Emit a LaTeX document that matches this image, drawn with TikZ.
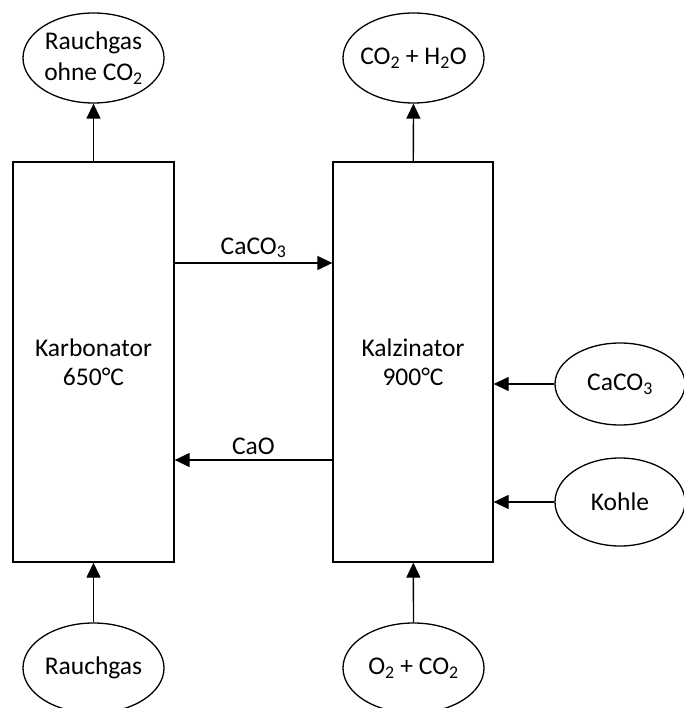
\documentclass[tikz,border=0pt]{standalone}
\usepackage{fontspec}
\setmainfont{Carlito}
\usetikzlibrary{shapes.geometric,arrows.meta}

\begin{document}
\begin{tikzpicture}[x=1pt, y=-1pt, line width=1.3pt,
	font=\fontsize{25.5}{29}\selectfont,
	reaktor/.style={draw, rectangle, align=center, minimum width=161pt, minimum height=400pt},
	stoff/.style={draw, ellipse, align=center, inner sep=-14pt, minimum width=141pt, minimum height=90pt},
	pfeil/.style={-{Triangle[length=15pt,width=14pt]}}]
\useasboundingbox (0,0) rectangle (683,708);

\node[reaktor] (karb) at (93.5,362) {Karbonator\\650°C};
\node[reaktor, minimum width=160pt] (kalz) at (413,362) {Kalzinator\\900°C};

\node[stoff, font=\fontsize{25.5}{31}\selectfont] (abgas) at (93.5,58) {Rauchgas\\ohne CO\textsubscript{2}};
\node[stoff] (co2h2o) at (413.5,58) {CO\textsubscript{2} + H\textsubscript{2}O};
\node[stoff] (rauch) at (93.5,668) {Rauchgas};
\node[stoff] (o2co2) at (413.5,668) {O\textsubscript{2} + CO\textsubscript{2}};
\node[stoff, minimum width=130pt, minimum height=82pt] (kalk) at (620,384) {CaCO\textsubscript{3}};
\node[stoff, minimum width=130pt, minimum height=88pt] (kohle) at (620,502) {Kohle};

\draw[pfeil] (karb) -- (abgas);
\draw[pfeil] (kalz) -- (co2h2o);
\draw[pfeil] (rauch) -- (karb);
\draw[pfeil] (o2co2) -- (kalz);

\draw[pfeil] ([yshift=99pt]karb.east) -- ([yshift=99pt]kalz.west)
	node[midway, above=1pt] {CaCO\textsubscript{3}};
\draw[pfeil] ([yshift=-98pt]kalz.west) -- ([yshift=-98pt]karb.east)
	node[midway, above=1pt] {CaO};

\draw[pfeil] (kalk.west) -- (kalk.west -| kalz.east);
\draw[pfeil] (kohle.west) -- (kohle.west -| kalz.east);

\end{tikzpicture}
\end{document}
